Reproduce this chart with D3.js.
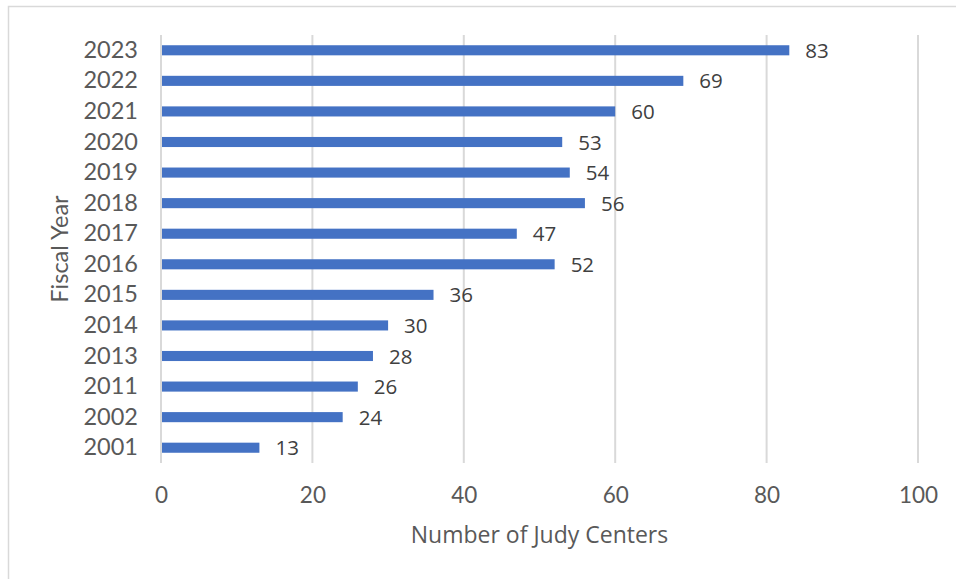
<!DOCTYPE html>
<html lang="en">
<head>
<meta charset="UTF-8">
<title>Judy Centers by fiscal year</title>
<style>
    body{ margin:0; background:#fff; }
    svg{ display:block; }
</style>
</head>
<body>
<script src="https://cdn.jsdelivr.net/npm/d3@7"></script>
<script>
    // data
    const years = ["2023","2022","2021","2020","2019","2018","2017","2016","2015","2014","2013","2011","2002","2001"];
    const centers = [83, 69, 60, 53, 54, 56, 47, 52, 36, 30, 28, 26, 24, 13];
    const xTicks = [0, 20, 40, 60, 80, 100];

    const donnees = years.map((y, i) => ({ annee: y, valeur: centers[i] }));

    const W = 956, H = 579;
    const marge = { left: 161, right: 956 - 918, top: 35, bottom: 579 - 463 };
    const grisTexte = "#595959";

    const svg = d3.select("body").append("svg")
        .attr("width", W)
        .attr("height", H);

    // chart border
    svg.append("rect")
        .attr("x", 8.5).attr("y", 6.5)
        .attr("width", W + 10).attr("height", H + 10)
        .attr("fill", "none")
        .attr("stroke", "#d9d9d9")
        .attr("stroke-width", 1.5);

    const x = d3.scaleLinear()
        .domain([0, 100])
        .range([marge.left, W - marge.right]);

    const y = d3.scaleBand()
        .domain(years)
        .range([marge.top, H - marge.bottom])
        .paddingInner(0.67)
        .paddingOuter(0.335);

    // gridlines
    svg.append("g").selectAll("line")
        .data(xTicks)
        .enter()
        .append("line")
            .attr("x1", d => x(d)).attr("x2", d => x(d))
            .attr("y1", marge.top).attr("y2", H - marge.bottom)
            .attr("stroke", "#d9d9d9")
            .attr("stroke-width", 2);

    // x axis labels
    const axeX = svg.append("g")
        .attr("transform", `translate(0,${H - marge.bottom})`)
        .call(d3.axisBottom(x).tickValues(xTicks).tickSize(0).tickPadding(24));
    axeX.select(".domain").remove();
    axeX.selectAll("text")
        .attr("fill", grisTexte)
        .style("font-family", "Lato, 'Open Sans', sans-serif")
        .style("font-size", "22.5px");

    // y axis labels
    const axeY = svg.append("g")
        .attr("transform", `translate(${marge.left},0)`)
        .call(d3.axisLeft(y).tickSize(0).tickPadding(23));
    axeY.select(".domain").remove();
    axeY.selectAll("text")
        .attr("fill", grisTexte)
        .style("font-family", "Lato, 'Open Sans', sans-serif")
        .style("font-size", "23.5px");

    // bars
    svg.append("g").selectAll("rect")
        .data(donnees)
        .enter()
        .append("rect")
            .attr("x", x(0) + 1)
            .attr("y", d => y(d.annee))
            .attr("width", d => x(d.valeur) - x(0) - 1)
            .attr("height", y.bandwidth())
            .attr("fill", "#4472c4");

    // value labels
    svg.append("g").selectAll("text")
        .data(donnees)
        .enter()
        .append("text")
            .attr("x", d => x(d.valeur) + 16)
            .attr("y", d => y(d.annee) + y.bandwidth() / 2)
            .attr("dy", "0.37em")
            .text(d => d.valeur)
            .attr("fill", "#404040")
            .style("font-family", "'Open Sans', sans-serif")
            .style("font-size", "20.5px");

    // axis titles
    svg.append("text")
        .attr("x", (x(0) + x(100)) / 2)
        .attr("y", 543)
        .attr("text-anchor", "middle")
        .attr("fill", grisTexte)
        .style("font-family", "'Open Sans', sans-serif")
        .style("font-size", "23px")
        .text("Number of Judy Centers");

    svg.append("text")
        .attr("transform", `translate(68,${(marge.top + H - marge.bottom) / 2}) rotate(-90)`)
        .attr("text-anchor", "middle")
        .attr("fill", grisTexte)
        .style("font-family", "Lato, 'Open Sans', sans-serif")
        .style("font-size", "23.5px")
        .text("Fiscal Year");
</script>
</body>
</html>
